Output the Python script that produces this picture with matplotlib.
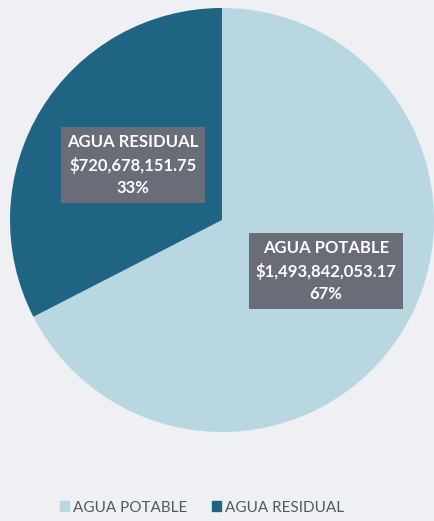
import matplotlib
matplotlib.use('Agg')
import matplotlib.pyplot as plt

# values from the chart
categories = ['AGUA POTABLE', 'AGUA RESIDUAL']
amounts = [1493842053.17, 720678151.75]
colors = ['#b9d7e1', '#1f6483']
# where the data labels sit (axes data coords, pie radius = 1)
label_pos = [(0.49, -0.24), (-0.42, 0.26)]

plt.rcParams['font.family'] = ['Lato', 'DejaVu Sans']

fig = plt.figure(figsize=(4.34, 5.21), dpi=100)
fig.patch.set_facecolor('#eef0f3')

ax = fig.add_axes([10/434, 89/521, 424/434, 424/521])
ax.set_facecolor('none')
wedges, _ = ax.pie(amounts, colors=colors, startangle=90, counterclock=False,
                   radius=1.0, wedgeprops=dict(linewidth=0))
ax.set_aspect('auto')
ax.set_xlim(-1, 1)
ax.set_ylim(-1, 1)
ax.axis('off')

total = sum(amounts)
for name, val, pos in zip(categories, amounts, label_pos):
    txt = '%s\n$%s\n%d%%' % (name, format(val, ',.2f'), round(100*val/total))
    ax.text(pos[0], pos[1], txt.replace('$', r'\$'), ha='center', va='center',
            color='white', fontsize=12, fontweight='bold', linespacing=1.5,
            bbox=dict(boxstyle='square,pad=0.4', facecolor='#6a6d78',
                      edgecolor='none'))

handles = [plt.Rectangle((0, 0), 1, 1, color=c) for c in colors]
fig.legend(handles, categories, loc='lower center', bbox_to_anchor=(0.465, -0.014),
           ncol=2, frameon=False, handlelength=0.6, handleheight=0.6,
           handletextpad=0.25, columnspacing=1.6,
           prop=dict(family='Lato', size=11), labelcolor='#555a60')

fig.savefig('out.png', dpi=100, facecolor=fig.get_facecolor())
